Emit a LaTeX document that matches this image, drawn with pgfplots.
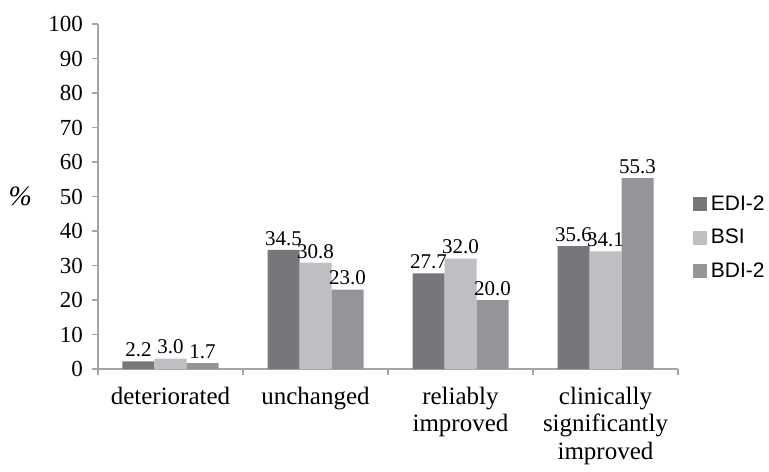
\documentclass[border=0pt]{standalone}
\usepackage{pgfplots}
\pgfplotsset{compat=1.18}
\usepackage{fontspec}
\setmainfont{Liberation Serif}
\newfontfamily\legfont{Liberation Sans}

\definecolor{cedi}{RGB}{118,119,123}
\definecolor{cbsi}{RGB}{190,191,195}
\definecolor{cbdi}{RGB}{148,149,153}
\definecolor{caxis}{RGB}{165,165,165}

\begin{document}
\begin{tikzpicture}
  \begin{axis}[
      at={(0,0)}, anchor=south west,
      scale only axis,
      width=290pt, height=172.5pt,
      ybar=0pt, bar width=16pt,
      xmin=-0.5, xmax=3.5,
      ymin=0, ymax=100,
      ytick={0,10,...,100},
      yticklabel={\fontsize{11.5}{12}\selectfont\pgfmathprintnumber{\tick}},
      xtick={-0.5,0.5,1.5,2.5,3.5},
      xticklabels={},
      extra x ticks={0,1,2,3},
      extra x tick labels={deteriorated, unchanged, reliably\\improved, clinically\\significantly\\improved},
      extra x tick style={major tick length=0pt},
      x tick label style={align=center, font=\fontsize{12.5}{13.75}\selectfont, yshift=-5.5pt},
      y tick label style={xshift=-1pt},
      /pgf/number format/assume math mode=true,
      axis x line*=bottom, axis y line*=left,
      axis line style={caxis, line width=0.6pt},
      tick style={caxis, line width=0.6pt},
      tick align=outside, major tick length=3pt,
      ylabel={\textit{\%}},
      every axis y label/.style={at={(axis description cs:-0.134,0.5)}, anchor=center, font=\fontsize{14}{14}\selectfont},
      nodes near coords,
      nodes near coords style={font=\fontsize{10.5}{12}\selectfont, /pgf/number format/fixed, /pgf/number format/fixed zerofill, /pgf/number format/precision=1, inner sep=2pt},
      legend style={draw=none, at={(1.025,0.38)}, anchor=west, font=\legfont\fontsize{10.5}{12}\selectfont, row sep=4pt, cells={anchor=west}, inner sep=0pt},
      legend image code/.code={\fill[#1] (0pt,-3.3pt) rectangle (7pt,3.7pt);},
    ]
    \addplot[fill=cedi, draw=none] coordinates {(0,2.2) (1,34.5) (2,27.7) (3,35.6)};
    \addlegendentry{EDI-2}
    \addplot[fill=cbsi, draw=none] coordinates {(0,3.0) (1,30.8) (2,32.0) (3,34.1)};
    \addlegendentry{BSI}
    \addplot[fill=cbdi, draw=none] coordinates {(0,1.7) (1,23.0) (2,20.0) (3,55.3)};
    \addlegendentry{BDI-2}
  \end{axis}
  \path[use as bounding box] (-49pt,-46pt) rectangle (335.5pt,184.5pt);
\end{tikzpicture}
\end{document}
